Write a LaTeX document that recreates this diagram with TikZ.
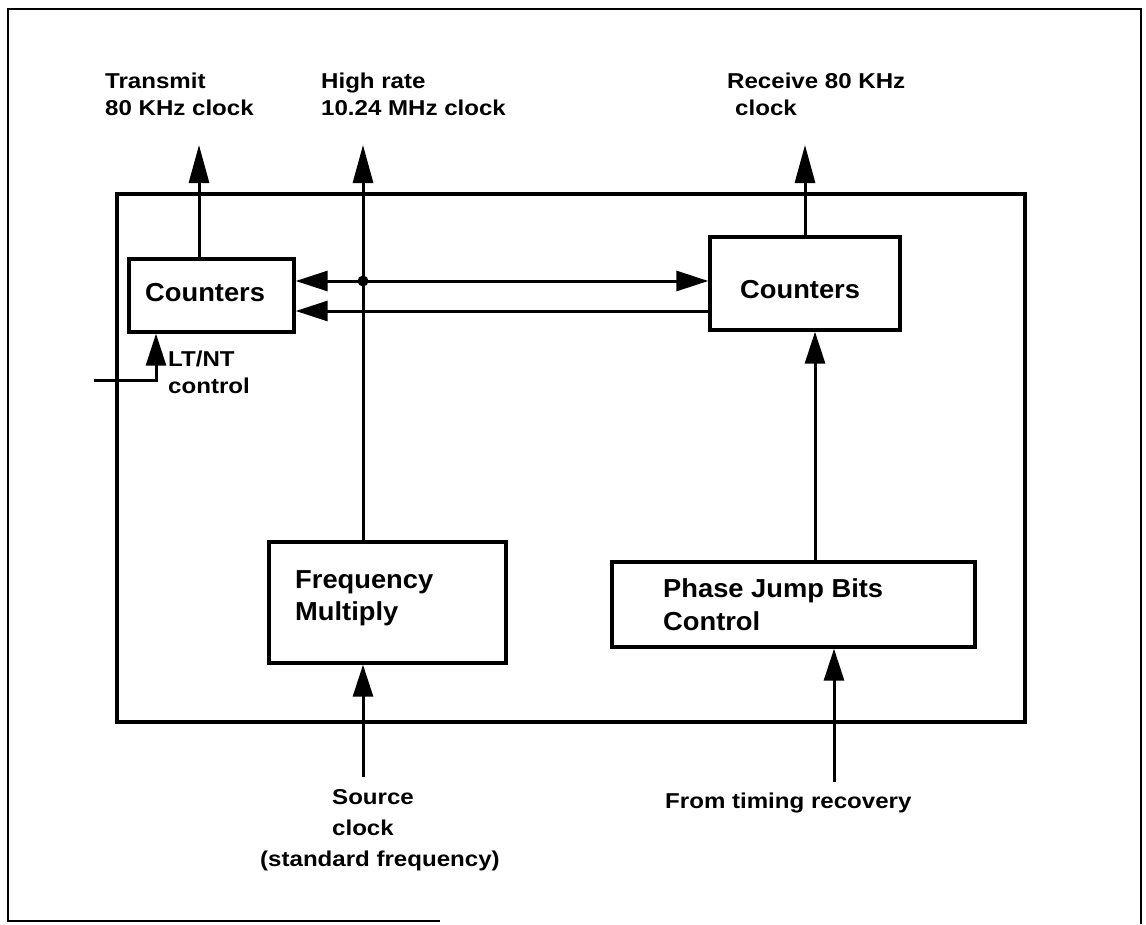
\documentclass[tikz,border=0pt]{standalone}
\usepackage{fontspec}
\newfontfamily\lab{Liberation Sans}[FakeStretch=1.12]
\newfontfamily\boxfont{Liberation Sans}[FakeStretch=1.05]
\usetikzlibrary{arrows.meta}
\tikzset{
  blk/.style={draw, line width=3.4pt, inner sep=0pt},
  wire/.style={line width=3pt},
  arr/.style={wire, -{Triangle[length=32pt,width=20pt]}},
  arrlong/.style={wire, -{Triangle[length=38pt,width=20pt]}},
  biarr/.style={wire, {Triangle[length=32pt,width=20pt]}-{Triangle[length=32pt,width=20pt]}},
  lbl/.style={anchor=base west, inner sep=0pt, font=\lab\bfseries\fontsize{21.5}{24}\selectfont},
  btxt/.style={anchor=base west, inner sep=0pt, font=\boxfont\bfseries\fontsize{26}{30}\selectfont},
}
\begin{document}
\begin{tikzpicture}[x=1pt, y=-1pt]
\useasboundingbox (0,0) rectangle (1146,924);

% outer frame (open at the lower right)
\draw[line width=2.5pt] (440,921) -- (8,921) -- (8,9) -- (1141,9) -- (1141,924);

% enclosure
\node[blk, minimum width=908pt, minimum height=528pt] (encl) at (571,458) {};

% function blocks
\node[blk, minimum width=165pt, minimum height=73pt] (cntL) at (211.5,295.5) {};
\node[blk, minimum width=190pt, minimum height=93pt] (cntR) at (805,283.5) {};
\node[blk, minimum width=237pt, minimum height=121pt] (freq) at (387.5,602.5) {};
\node[blk, minimum width=363pt, minimum height=85pt] (phase) at (793.5,604.5) {};

\node[btxt] (tcL) at (145,301) {Counters};
\node[btxt] (tcR) at (740,298) {Counters};
\node[btxt] (tf1) at (295,588) {Frequency};
\node[btxt] (tf2) at (295,620) {Multiply};
\node[btxt] (tp1) at (663,597) {Phase Jump Bits};
\node[btxt] (tp2) at (663,630) {Control};

% labels
\node[lbl] (lt1) at (105,88) {Transmit};
\node[lbl] (lt2) at (105,115) {80 KHz clock};
\node[lbl] (lh1) at (321,88) {High rate};
\node[lbl] (lh2) at (321,115) {10.24 MHz clock};
\node[lbl] (lr1) at (727,88) {Receive 80 KHz};
\node[lbl] (lr2) at (735,115) {clock};
\node[lbl] (ln1) at (168,366) {LT/NT};
\node[lbl] (ln2) at (168,393) {control};
\node[lbl] (ls1) at (332,804) {Source};
\node[lbl] (ls2) at (332,835) {clock};
\node[lbl] (ls3) at (260,866) {(standard frequency)};
\node[lbl] (lfr) at (665,808) {From timing recovery};

% free ends of connectors
\coordinate (tTx) at (199,145);
\coordinate (tHi) at (363,145);
\coordinate (tRx) at (805,145);
\coordinate (jct) at (363,281);
\coordinate (ltIn) at (94,380);
\coordinate (ltBend) at (156,380);
\coordinate (srcIn) at (363,777);
\coordinate (tmIn) at (834,782);

% outputs
\draw[arrlong] (cntL.north -| tTx) -- (tTx);
\draw[arrlong] (freq.north -| tHi) -- (tHi);
\draw[arrlong] (cntR.north -| tRx) -- (tRx);

% links between the counters
\draw[biarr] (cntL.east |- jct) -- (cntR.west |- jct);
\draw[arr] (cntR.west |- 0,311) -- (cntL.east |- 0,311);
\fill (jct) circle (5.5pt);

% inputs
\draw[arr] (ltIn) -- (ltBend) -- (ltBend |- cntL.south);
\draw[arr] (phase.north -| 815,0) -- (cntR.south -| 815,0);
\draw[arr] (srcIn) -- (srcIn |- freq.south);
\draw[arr] (tmIn) -- (tmIn |- phase.south);
\end{tikzpicture}
\end{document}
